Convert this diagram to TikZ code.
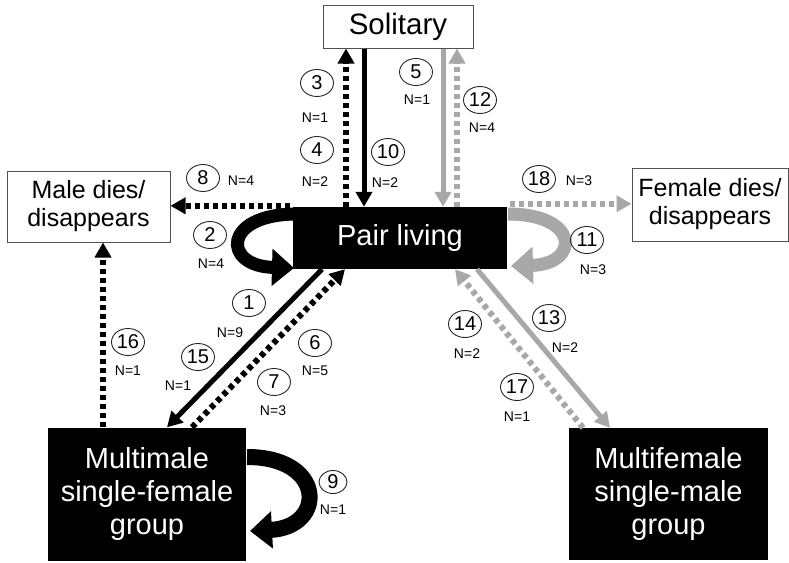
\documentclass[tikz,border=0pt]{standalone}
\usepackage{fontspec}
\setmainfont{Liberation Sans}
\usetikzlibrary{arrows.meta,shapes.geometric,calc}
\definecolor{lightarrow}{RGB}{168,168,168}
\definecolor{frame}{RGB}{80,80,80}
\tikzset{
  whitebox/.style={draw=frame, line width=1pt, fill=white, inner sep=0pt, align=center},
  blackbox/.style={fill=black, text=white, inner sep=0pt, align=center},
  headtip/.style={-{Triangle[width=16pt,length=15pt]}},
  solidblack/.style={headtip, line width=5pt, black},
  dotblack/.style={headtip, line width=6pt, black, dash pattern=on 5pt off 4pt},
  solidgray/.style={headtip, line width=5pt, lightarrow},
  dotgray/.style={headtip, line width=6pt, lightarrow, dash pattern=on 5pt off 4pt},
  num/.style={ellipse, draw=black!85, line width=0.9pt, minimum width=33pt, minimum height=27pt,
    inner sep=0pt, font=\fontsize{20}{20}\selectfont},
  count/.style={inner sep=0pt, font=\fontsize{14}{14}\selectfont},
  selfloop/.style={line width=13pt, -{Triangle[width=36pt,length=22pt]}},
}
\begin{document}
\begin{tikzpicture}[x=1pt,y=-1pt]
\useasboundingbox (0,0) rectangle (789,562);

% states
\node[whitebox, minimum width=150pt, minimum height=43pt, font=\fontsize{29.5}{33}\selectfont]
  (sol) at (398,26.5) {Solitary};
\node[blackbox, minimum width=214pt, minimum height=62pt, font=\fontsize{29}{33}\selectfont]
  (pair) at (400,238) {Pair living};
\node[whitebox, minimum width=163pt, minimum height=71pt, font=\fontsize{25}{28}\selectfont]
  (male) at (88.5,206.5) {Male dies/\\disappears};
\node[whitebox, minimum width=156pt, minimum height=73pt, font=\fontsize{25}{28}\selectfont]
  (female) at (710,204.5) {Female dies/\\disappears};
\node[blackbox, minimum width=198pt, minimum height=133pt, font=\fontsize{29}{33}\selectfont]
  (mm) at (147,494) {Multimale\\single-female\\group};
\node[blackbox, minimum width=199pt, minimum height=132pt, font=\fontsize{29}{33}\selectfont]
  (mf) at (668.5,494) {Multifemale\\single-male\\group};

% transitions between pair living and solitary
\draw[dotblack] ([xshift=-54pt]pair.north) -- ([xshift=-54pt]pair.north |- sol.south);
\draw[solidblack] ([xshift=-34pt]sol.south) -- ([xshift=-34pt]sol.south |- pair.north);
\draw[solidgray] ([xshift=45pt]sol.south) -- ([xshift=45pt]sol.south |- pair.north);
\draw[dotgray] ([xshift=57pt]pair.north) -- ([xshift=57pt]pair.north |- sol.south);

% loss of a partner
\draw[dotblack] ([xshift=-3pt,yshift=1pt]pair.north west) -- ([yshift=1pt]pair.north west -| male.east);
\draw[dotgray] ([xshift=3pt,yshift=3pt]pair.north east) -- ([yshift=3pt]pair.north east -| female.west);
\draw[dotblack] ([xshift=-44pt]mm.north) -- ([xshift=-44pt]mm.north |- male.south);

% transitions with the multimale group
\draw[solidblack] ([xshift=-78pt]pair.south) -- ([xshift=20pt]mm.north);
\draw[dotblack] ([xshift=45pt]mm.north) -- ([xshift=-55pt]pair.south);

% transitions with the multifemale group
\draw[solidgray] ([xshift=77pt]pair.south) -- ([xshift=-58.5pt]mf.north);
\draw[dotgray] ([xshift=-85.5pt]mf.north) -- ([xshift=55pt]pair.south);

% self transitions
\coordinate (l2a) at (297,214);
\coordinate (l2b) at (294,268);
\draw[selfloop, black] (l2a) .. controls (222,214) and (222,266) .. (l2b);
\coordinate (l11a) at (508,214);
\coordinate (l11b) at (511,266);
\draw[selfloop, lightarrow] (l11a) .. controls (580,214) and (580,264) .. (l11b);
\coordinate (l9a) at (247,457);
\coordinate (l9b) at (250,531);
\draw[selfloop, black, line width=16pt] (l9a) .. controls (326,457) and (326,527) .. (l9b);

% transition numbers and counts
\node[num] (c3) at (317,83) {3};   \node[count] (n3) at (315,118) {N=1};
\node[num] (c4) at (317,150) {4};  \node[count] (n4) at (315,182) {N=2};
\node[num] (c10) at (388,152) {10}; \node[count] (n10) at (385,183) {N=2};
\node[num] (c5) at (416,72) {5};   \node[count] (n5) at (417,100) {N=1};
\node[num] (c12) at (480,100) {12}; \node[count] (n12) at (482,128) {N=4};
\node[num] (c8) at (203,178) {8};  \node[count] (n8) at (241,181) {N=4};
\node[num] (c2) at (210,235) {2};  \node[count] (n2) at (211,264) {N=4};
\node[num] (c1) at (249,303) {1};  \node[count] (n1) at (230,333) {N=9};
\node[num] (c15) at (198,357) {15}; \node[count] (n15) at (178,386) {N=1};
\node[num] (c6) at (315,343) {6};  \node[count] (n6) at (315,371) {N=5};
\node[num] (c7) at (274,382) {7};  \node[count] (n7) at (273,411) {N=3};
\node[num] (c16) at (128,342) {16}; \node[count] (n16) at (128,371) {N=1};
\node[num] (c18) at (539,179) {18}; \node[count] (n18) at (579,181) {N=3};
\node[num] (c11) at (587,240) {11}; \node[count] (n11) at (593,270) {N=3};
\node[num] (c14) at (465,324) {14}; \node[count] (n14) at (467,354) {N=2};
\node[num] (c13) at (549,318) {13}; \node[count] (n13) at (565,348) {N=2};
\node[num] (c17) at (517,387) {17}; \node[count] (n17) at (517,417) {N=1};
\node[num, minimum width=28pt, minimum height=23pt] (c9) at (333,482) {9};
\node[count] (n9) at (333,510) {N=1};
\end{tikzpicture}
\end{document}
